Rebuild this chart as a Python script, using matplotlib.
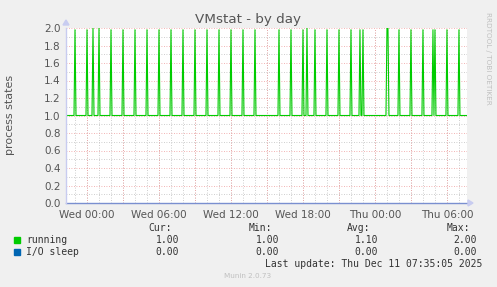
import numpy as np
import matplotlib
matplotlib.use("Agg")
import matplotlib.pyplot as plt
from matplotlib.patches import Polygon

# ---- data (hours relative to Wed 00:00) ----
x_start, x_end = -1.75, 31.67
step = 1 / 12  # 5-minute samples
running_base = 1.0
iosleep_base = 0.0
spike_times = [-0.98, 0.0, 0.47, 0.53, 1.0, 2.03, 3.03, 4.03, 5.03, 6.03, 7.03, 8.03,
               9.03, 10.03, 11.03, 12.03, 13.03, 14.03, 16.03, 17.0, 18.0, 18.36,
               19.03, 20.03, 21.0, 22.03, 22.78, 23.03, 24.97, 25.05, 26.03, 27.03,
               28.03, 28.86, 29.03, 30.03, 31.03]
spike_vals = [1.98, 1.98, 2.0, 2.0, 2.0, 1.98, 1.98, 1.98, 1.98, 1.98, 1.98, 1.98,
              1.98, 1.98, 1.98, 1.98, 1.98, 1.98, 1.98, 1.98, 1.98, 2.0,
              1.98, 1.98, 1.98, 1.98, 1.98, 1.98, 2.0, 2.0, 1.98, 1.98,
              1.98, 1.98, 1.98, 1.98, 1.98]
tick_hours = [0, 6, 12, 18, 24, 30]
tick_labels = ["Wed 00:00", "Wed 06:00", "Wed 12:00", "Wed 18:00", "Thu 00:00", "Thu 06:00"]
y_ticks = [0.0, 0.2, 0.4, 0.6, 0.8, 1.0, 1.2, 1.4, 1.6, 1.8, 2.0]
legend_names = ["running", "I/O sleep"]
legend_colors = ["#00CC00", "#0066B3"]
cur_vals = [1.00, 0.00]
min_vals = [1.00, 0.00]
avg_vals = [1.10, 0.00]
max_vals = [2.00, 0.00]

t = np.arange(x_start, x_end, step)
running = np.full(t.shape, running_base)
for st, sv in zip(spike_times, spike_vals):
    i = int(np.argmin(np.abs(t - st)))
    running[i] = sv
iosleep = np.full(t.shape, iosleep_base)

W, H = 497, 287
fig = plt.figure(figsize=(W / 100, H / 100), dpi=100, facecolor="#F0F0F0")
ax = fig.add_axes([66 / W, 1 - 203 / H, 401 / W, 175 / H])
ax.set_facecolor("white")
ax.set_xlim(x_start, x_end)
ax.set_ylim(0, 2.0)

# grid
for h in np.arange(-1, 32, 1):
    ax.axvline(h, color="#BEBEBE", lw=0.6, ls=(0, (1, 2)), zorder=1)
for yv in np.arange(0.1, 2.01, 0.2):
    ax.axhline(yv, color="#BEBEBE", lw=0.6, ls=(0, (1, 2)), zorder=1)
for h in np.arange(0, 32, 3):
    ax.axvline(h, color="#EE9A9A", lw=0.6, ls=(0, (1, 2)), zorder=1.5)
for yv in y_ticks:
    ax.axhline(yv, color="#EE9A9A", lw=0.6, ls=(0, (1, 2)), zorder=1.5)

ax.plot(t, running, color=legend_colors[0], lw=0.8, zorder=3)
ax.plot(t, iosleep, color="#7A8FD0", lw=1.0, zorder=3, clip_on=False)

for s in ax.spines.values():
    s.set_visible(False)
ax.axvline(x_start, color="#C8CCF0", lw=1.0, zorder=4, clip_on=False)

ax.set_xticks(tick_hours)
ax.set_xticklabels(tick_labels)
ax.set_yticks(y_ticks)
ax.set_yticklabels([f"{v:.1f}" for v in y_ticks])
ax.tick_params(axis="both", length=0, labelsize=7.5, colors="#555555", pad=4)
ax.tick_params(axis="x", pad=5)

# axis arrows
fx = lambda px: px / W
fy = lambda py: 1 - py / H
fig.patches.append(Polygon([[fx(63), fy(25)], [fx(69), fy(25)], [fx(66), fy(20)]],
                           closed=True, transform=fig.transFigure, color="#C8CCF0"))
fig.patches.append(Polygon([[fx(468), fy(200)], [fx(468), fy(206)], [fx(473), fy(203)]],
                           closed=True, transform=fig.transFigure, color="#C8CCF0"))

fig.text(fx(248), fy(19), "VMstat - by day", ha="center", va="center",
         fontsize=9.7, color="#555555")
fig.text(fx(10), fy(115), "process states", rotation=90, ha="center", va="center",
         fontsize=8, color="#555555")
fig.text(fx(488), fy(58), "RRDTOOL / TOBI OETIKER", rotation=270, ha="center",
         va="center", fontsize=5.2, color="#C0C0C0")

mono = dict(family="DejaVu Sans Mono", fontsize=7, color="#333333", va="center")
fig.text(fx(172), fy(228), "Cur:", ha="right", **mono)
fig.text(fx(272), fy(228), "Min:", ha="right", **mono)
fig.text(fx(370), fy(228), "Avg:", ha="right", **mono)
fig.text(fx(470), fy(228), "Max:", ha="right", **mono)
rows_y = [240, 252]
for name, col, c, mn, av, mx, ry in zip(legend_names, legend_colors, cur_vals,
                                        min_vals, avg_vals, max_vals, rows_y):
    fig.patches.append(plt.Rectangle((fx(14), fy(ry + 3)), 6 / W, 6 / H,
                                     transform=fig.transFigure, color=col))
    fig.text(fx(26), fy(ry), name, ha="left", **mono)
    fig.text(fx(179), fy(ry), f"{c:.2f}", ha="right", **mono)
    fig.text(fx(279), fy(ry), f"{mn:.2f}", ha="right", **mono)
    fig.text(fx(378), fy(ry), f"{av:.2f}", ha="right", **mono)
    fig.text(fx(477), fy(ry), f"{mx:.2f}", ha="right", **mono)
fig.text(fx(482), fy(264), "Last update: Thu Dec 11 07:35:05 2025", ha="right", **mono)
fig.text(fx(248), fy(276), "Munin 2.0.73", ha="center", va="center",
         fontsize=5.2, color="#C0C0C0")

fig.savefig("out.png", dpi=100, facecolor=fig.get_facecolor())
